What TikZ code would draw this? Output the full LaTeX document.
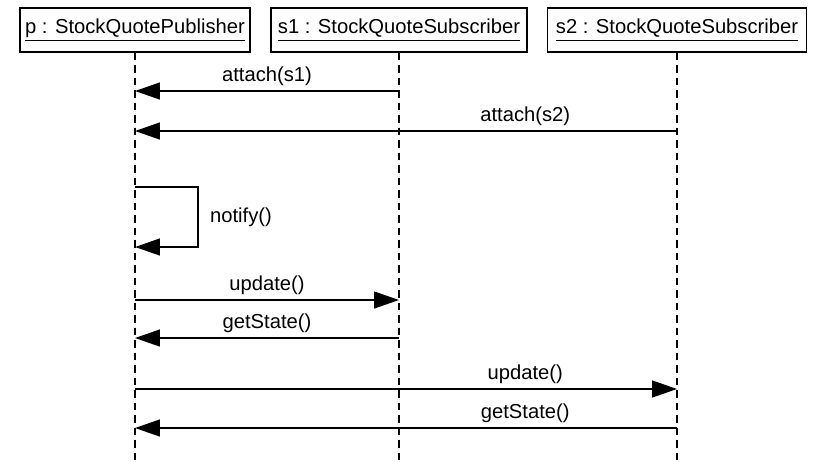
\documentclass[tikz,border=0pt]{standalone}
\usepackage{fontspec}
\setmainfont{Liberation Sans}
\usetikzlibrary{arrows.meta}
\begin{document}
\begin{tikzpicture}[x=0.02cm,y=-0.02cm,
  obj/.style={draw, line width=0.8pt, inner sep=0pt, minimum height=0.88cm, font=\fontsize{11.5}{14}\selectfont},
  life/.style={line width=0.8pt, dash pattern=on 0.15cm off 0.1cm},
  msg/.style={line width=0.8pt, -{Triangle[length=0.5cm,width=0.34cm]}},
  lbl/.style={font=\fontsize{11.5}{14}\selectfont, inner sep=2.5pt}]
\useasboundingbox (0,0) rectangle (814,461);
%----------------------------------------------------------
	% Objects
	%------------------------------------------------------
	\node[obj, minimum width=4.6cm]  (p)  at (135,30) {\underline{p : StockQuotePublisher}};
	\node[obj, minimum width=5.12cm] (s1) at (399,30) {\underline{s1 : StockQuoteSubscriber}};
	\node[obj, minimum width=5.18cm] (s2) at (677,30) {\underline{s2 : StockQuoteSubscriber}};

	%Lifelines
	%------------------------------------------------------
	\draw[life] (p.south)  -- (p.south |- 0,461);
	\draw[life] (s1.south) -- (s1.south |- 0,461);
	\draw[life] (s2.south) -- (s2.south |- 0,461);

	%Messages
	%------------------------------------------------------
	\draw[msg] (s1 |- 0,91) -- node[lbl, above] {attach(s1)} (p |- 0,91);
	\draw[msg] (s2 |- 0,131) -- node[lbl, above, pos=0.28] {attach(s2)} (p |- 0,131);

	%Self call
	\coordinate (LoopTop) at (198,187);
	\coordinate (LoopBot) at (198,247);
	\draw[msg] (p |- LoopTop) -- (LoopTop) -- node[lbl, right, xshift=4pt] {notify()} (LoopBot) -- (p |- LoopBot);

	\draw[msg] (p |- 0,300) -- node[lbl, above] {update()} (s1 |- 0,300);
	\draw[msg] (s1 |- 0,338) -- node[lbl, above] {getState()} (p |- 0,338);
	\draw[msg] (p |- 0,389) -- node[lbl, above, pos=0.72] {update()} (s2 |- 0,389);
	\draw[msg] (s2 |- 0,428) -- node[lbl, above, pos=0.28] {getState()} (p |- 0,428);
\end{tikzpicture}
\end{document}
